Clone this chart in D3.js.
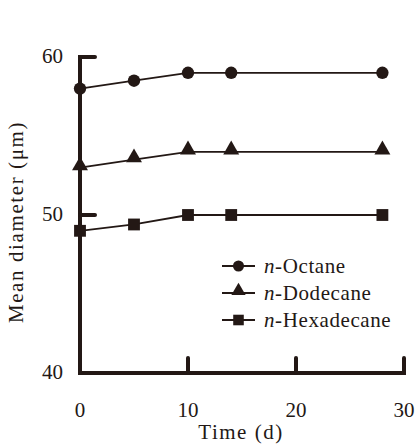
<!DOCTYPE html>
<html>
<head>
<meta charset="utf-8">
<script src="https://cdn.jsdelivr.net/npm/d3@7"></script>
<style>
  body { margin: 0; background: #fff; }
  text { font-family: "Liberation Serif", "Times New Roman", serif; fill: #231815; }
</style>
</head>
<body>
<script>
// data
var days = [0, 5, 10, 14, 28];
var octane = [58, 58.5, 59, 59, 59];
var dodecane = [53, 53.5, 54, 54, 54];
var hexadecane = [49, 49.4, 50, 50, 50];
var seriesNames = ["Octane", "Dodecane", "Hexadecane"];
var xTicks = [0, 10, 20, 30];
var yTicks = [40, 50, 60];

var ink = "#231815";
var W = 415, H = 444;
var fs = 21;

var x = d3.scaleLinear().domain([0, 30]).range([80, 404]);
var y = d3.scaleLinear().domain([40, 60]).range([373, 57]);

var svg = d3.select("body").append("svg")
  .attr("width", W).attr("height", H);

// axes, drawn as thick lines with inward ticks
var axes = svg.append("g")
  .attr("stroke", ink).attr("stroke-width", 4)
  .attr("stroke-linecap", "round").attr("fill", "none");

axes.append("path")
  .attr("d", "M" + (x(0) + 15) + "," + y(60) + "H" + x(0) + "V" + y(40) + "H" + x(30) + "V" + (y(40) - 15));

yTicks.slice(1, -1).forEach(function(v) {
  axes.append("line").attr("x1", x(0)).attr("x2", x(0) + 15)
    .attr("y1", y(v)).attr("y2", y(v));
});
xTicks.slice(1, -1).forEach(function(v) {
  axes.append("line").attr("x1", x(v)).attr("x2", x(v))
    .attr("y1", y(40)).attr("y2", y(40) - 15);
});

// tick labels
svg.selectAll(".ylab").data(yTicks).enter().append("text")
  .attr("x", 63).attr("y", function(d) { return y(d) - 1; })
  .attr("dy", "0.35em").attr("text-anchor", "end")
  .attr("font-size", fs).text(function(d) { return d; });

svg.selectAll(".xlab").data(xTicks).enter().append("text")
  .attr("x", function(d) { return x(d); }).attr("y", 417)
  .attr("text-anchor", "middle")
  .attr("font-size", fs).text(function(d) { return d; });

// axis titles
svg.append("text")
  .attr("transform", "translate(23,222) rotate(-90)")
  .attr("text-anchor", "middle").attr("font-size", fs)
  .attr("letter-spacing", 1.6)
  .text("Mean diameter (μm)");

svg.append("text")
  .attr("x", 241).attr("y", 439)
  .attr("text-anchor", "middle").attr("font-size", fs)
  .attr("letter-spacing", 1.5)
  .text("Time (d)");

var line = d3.line()
  .x(function(d, i) { return x(days[i]); })
  .y(function(d) { return y(d); });

var symbols = [d3.symbolCircle, d3.symbolTriangle, d3.symbolSquare];
var sizes = [120, 110, 140];
var allSeries = [octane, dodecane, hexadecane];

allSeries.forEach(function(s, k) {
  svg.append("path").datum(s)
    .attr("d", line).attr("fill", "none")
    .attr("stroke", ink).attr("stroke-width", 1.8);

  svg.selectAll(".m" + k).data(s).enter().append("path")
    .attr("transform", function(d, i) {
      var dy = k == 1 ? -2 : 0;
      return "translate(" + x(days[i]) + "," + (y(d) + dy) + ")";
    })
    .attr("d", d3.symbol().type(symbols[k]).size(sizes[k]))
    .attr("fill", ink);
});

// legend
var leg = svg.append("g");
seriesNames.forEach(function(name, k) {
  var ly = 266 + k * 27;
  leg.append("line").attr("x1", 222).attr("x2", 255)
    .attr("y1", ly).attr("y2", ly)
    .attr("stroke", ink).attr("stroke-width", 2);
  leg.append("path")
    .attr("transform", "translate(238.5," + (ly + (k == 1 ? -2 : 0)) + ")")
    .attr("d", d3.symbol().type(symbols[k]).size(sizes[k] * 0.8))
    .attr("fill", ink);
  var t = leg.append("text").attr("x", 264).attr("y", ly)
    .attr("dy", "0.35em").attr("font-size", fs)
    .attr("letter-spacing", 0.6);
  t.append("tspan").attr("font-style", "italic").text("n");
  t.append("tspan").text("-" + name);
});
</script>
</body>
</html>
